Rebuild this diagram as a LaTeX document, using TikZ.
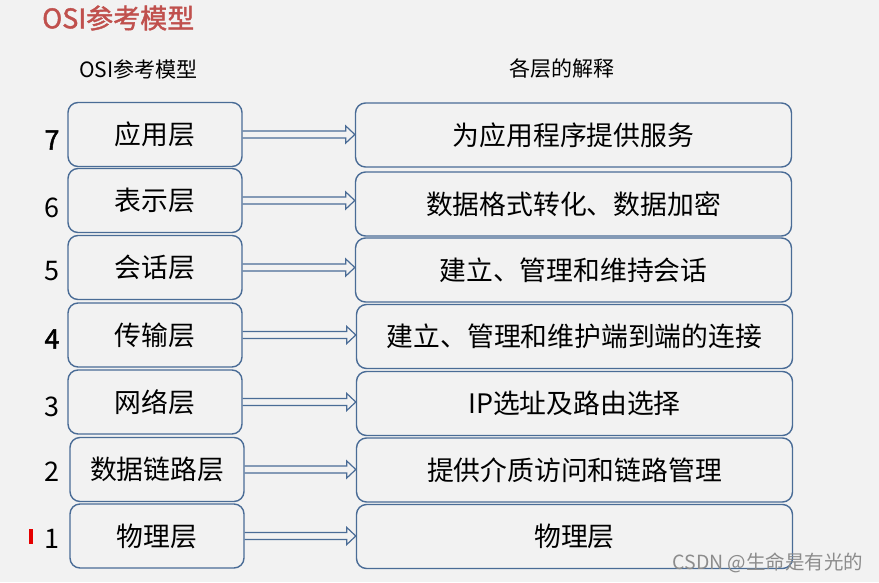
\documentclass[tikz,border=0pt]{standalone}
\usepackage{fontspec}
\setmainfont{Noto Sans CJK SC}
\newfontfamily\semibold[BoldFont={*},BoldFeatures={FakeBold=1.6}]{Noto Sans CJK SC}
\usetikzlibrary{calc}
\definecolor{boxblue}{RGB}{74,108,150}
\definecolor{titlered}{RGB}{192,80,77}
\definecolor{bggray}{RGB}{242,242,242}
% hollow block arrow between two boxes
\newcommand\layerarrow[2]{%
	\draw[arrline] ($(#1.east)+(0,-3.5)$) -- ($(#2.west |- #1.east)+(-9,-3.5)$) -- ++(0,-5)
		-- (#2.west |- #1.east) -- ++(-9,8.5) -- ++(0,-5) -- ($(#1.east)+(0,3.5)$);}
\begin{document}
\begin{tikzpicture}[x=1pt,y=-1pt,
	lbox/.style={draw=boxblue,fill=bggray,line width=1.4pt,rounded corners=10pt,minimum width=174pt,minimum height=64pt,inner sep=0pt,font=\fontsize{26.8}{30}\selectfont},
	rbox/.style={lbox,minimum width=436pt},
	num/.style={font=\fontsize{27}{30}\selectfont,inner sep=0pt},
	arrline/.style={draw=boxblue,line width=1.2pt,line join=miter}]
	\fill[bggray] (0,0) rectangle (879,582);
	\useasboundingbox (0,0) rectangle (879,582);
	% titles
	\node[anchor=west,inner sep=0pt,text=titlered,font=\fontsize{27}{30}\semibold\bfseries] (title) at (42,18) {OSI参考模型};
	\node[inner sep=0pt,font=\fontsize{21}{24}\selectfont] (lhead) at (138.5,69) {OSI参考模型};
	\node[inner sep=0pt,font=\fontsize{21}{24}\selectfont] (rhead) at (562,69) {各层的解释};
	% layer 7
	\node[lbox] (l7) at (155,134.5) {应用层};
	\node[rbox] (r7) at (573.5,135) {为应用程序提供服务};
	\node[num,font=\fontsize{27}{30}\semibold\bfseries] (n7) at (52,140) {7};
	\layerarrow{l7}{r7}
	% layer 6
	\node[lbox] (l6) at (155,200.5) {表示层};
	\node[rbox] (r6) at (573.5,204) {数据格式转化、数据加密};
	\node[num] (n6) at (52,208) {6};
	\layerarrow{l6}{r6}
	% layer 5
	\node[lbox] (l5) at (155,267.5) {会话层};
	\node[rbox] (r5) at (573.5,270) {建立、管理和维持会话};
	\node[num] (n5) at (52,271) {5};
	\layerarrow{l5}{r5}
	% layer 4
	\node[lbox] (l4) at (155,335) {传输层};
	\node[rbox] (r4) at (574.5,336.5) {建立、管理和维护端到端的连接};
	\node[num,font=\fontsize{27}{30}\semibold\bfseries] (n4) at (52,339) {4};
	\layerarrow{l4}{r4}
	% layer 3
	\node[lbox] (l3) at (155,402) {网络层};
	\node[rbox] (r3) at (574.5,403.5) {IP选址及路由选择};
	\node[num] (n3) at (52,407) {3};
	\layerarrow{l3}{r3}
	% layer 2
	\node[lbox] (l2) at (157,469.5) {数据链路层};
	\node[rbox] (r2) at (574.5,470) {提供介质访问和链路管理};
	\node[num] (n2) at (52,472) {2};
	\layerarrow{l2}{r2}
	% layer 1
	\node[lbox] (l1) at (157,536) {物理层};
	\node[rbox] (r1) at (574.5,536.5) {物理层};
	\node[num] (n1) at (52,539) {1};
	\layerarrow{l1}{r1}
	% red mark, watermark
	\fill[red!90!black] (29,529) rectangle (33,544);
	\node[inner sep=0pt,text=black!45,font=\fontsize{19.5}{22}\selectfont] (mark) at (768,563) {CSDN @生命是有光的};
\end{tikzpicture}
\end{document}
